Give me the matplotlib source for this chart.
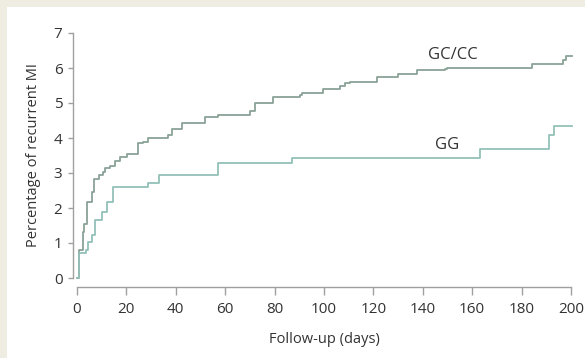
import matplotlib
matplotlib.use("Agg")
import matplotlib.pyplot as plt
from matplotlib.patches import Rectangle

# step curves: day of each step and cumulative percentage after it
gccc_days = [0, 0.9, 2.3, 2.8, 4.2, 5.9, 7.0, 8.9, 10.7, 11.3, 13.4, 15.4, 17.4,
             20.2, 24.7, 26.7, 28.7, 36.8, 38.5, 42.5, 51.8, 57.1, 70.0, 72.0,
             79.4, 90.3, 91.0, 99.6, 106.5, 108.5, 110.5, 121.5, 130.0, 137.7,
             149.0, 149.8, 184.2, 196.8, 198.0, 200.4]
gccc_pct = [0, 0.8, 1.32, 1.55, 2.18, 2.47, 2.82, 2.94, 3.04, 3.15, 3.2, 3.35, 3.46,
            3.55, 3.85, 3.9, 4.0, 4.1, 4.25, 4.43, 4.6, 4.66, 4.78, 5.0,
            5.17, 5.23, 5.3, 5.4, 5.48, 5.56, 5.6, 5.73, 5.83, 5.94,
            5.97, 6.0, 6.11, 6.23, 6.34, 6.34]

gg_days = [0, 0.9, 3.6, 4.6, 6.0, 7.3, 10.0, 12.3, 14.5, 28.6, 33.3, 57.2, 87.0,
           163.2, 191.0, 193.0, 200.4]
gg_pct = [0, 0.72, 0.8, 1.04, 1.23, 1.66, 1.9, 2.18, 2.61, 2.72, 2.94, 3.28, 3.42,
          3.7, 4.08, 4.34, 4.34]

x_ticks = list(range(0, 201, 20))
y_ticks = list(range(0, 8))

plt.rcParams['font.family'] = ['Open Sans', 'DejaVu Sans']
text_col = '#333333'
axis_col = '#a0a0a0'

fig = plt.figure(figsize=(5.85, 3.58), dpi=100)
fig.patch.set_facecolor('#efece2')
fig.patches.append(Rectangle((7 / 585, 0), 1, (358 - 7) / 358, transform=fig.transFigure,
                             facecolor='white', edgecolor='none', zorder=-10))

ax = fig.add_axes([77 / 585, 80 / 358, 494 / 585, 245 / 358])
ax.set_facecolor('none')

ax.step(gccc_days, gccc_pct, where='post', color='#8aa398', lw=1.3, clip_on=False)
ax.step(gg_days, gg_pct, where='post', color='#93c0b8', lw=1.3, clip_on=False)

ax.text(152, 6.37, 'GC/CC', ha='center', va='center', fontsize=12, color=text_col)
ax.text(150, 3.8, 'GG', ha='center', va='center', fontsize=12, color=text_col)

ax.set_xlim(0, 200)
ax.set_ylim(0, 7)
ax.set_xticks(x_ticks)
ax.set_yticks(y_ticks)

for side in ['top', 'right']:
    ax.spines[side].set_visible(False)
ax.spines['left'].set_position(('outward', 3))
ax.spines['bottom'].set_position(('outward', 6.5))
ax.spines['left'].set_bounds(0, 7)
ax.spines['bottom'].set_bounds(0, 200)
for side in ['left', 'bottom']:
    ax.spines[side].set_color(axis_col)
    ax.spines[side].set_linewidth(1.0)

ax.tick_params(axis='y', direction='out', length=3.5, width=1, color=axis_col,
               labelsize=11, labelcolor=text_col, pad=4)
ax.tick_params(axis='x', direction='out', length=5.5, width=1, color=axis_col,
               labelsize=11, labelcolor=text_col, pad=5)

ax.set_xlabel('Follow-up (days)', fontsize=10.5, color=text_col, labelpad=11)
ax.set_ylabel('Percentage of recurrent MI', fontsize=10.5, color=text_col, labelpad=9)

fig.savefig('out.png', dpi=100, facecolor=fig.get_facecolor())
